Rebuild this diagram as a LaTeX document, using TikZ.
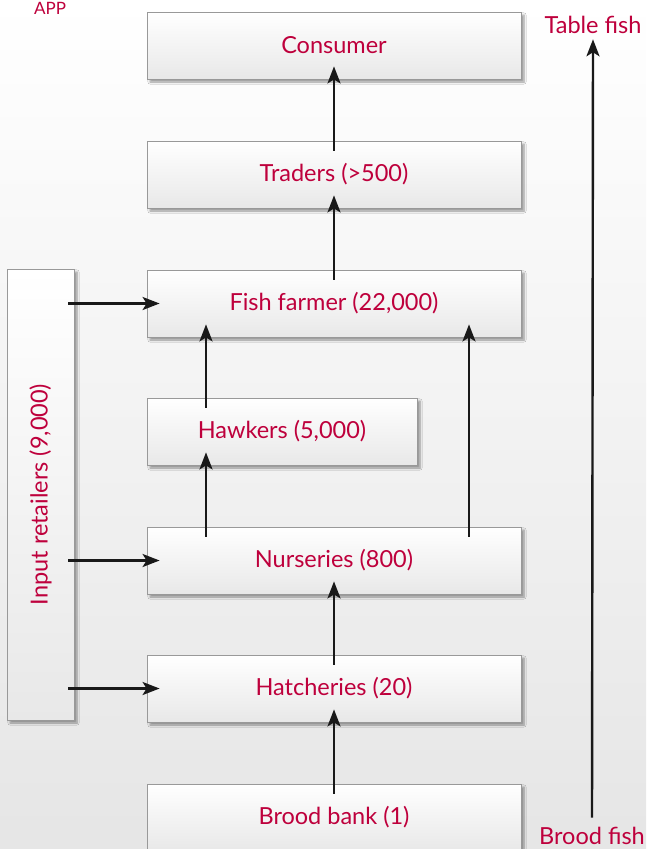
\documentclass[tikz,border=0pt]{standalone}
\usepackage{fontspec}
\setmainfont{Lato}
\usetikzlibrary{arrows.meta,shadows.blur}
\definecolor{crimson}{RGB}{190,0,60}

\begin{document}
\begin{tikzpicture}[x=1pt, y=-1pt,
    stage/.style={rectangle, draw=black!40, line width=0.8pt,
                  top color=white, bottom color=black!9,
                  minimum height=67pt, text=crimson,
                  font=\fontsize{23.5}{28}\selectfont,
                  blur shadow={shadow xshift=3pt, shadow yshift=-3pt,
                               shadow blur steps=6, shadow opacity=40}},
    tag/.style={text=crimson, font=\fontsize{23.5}{28}\selectfont},
    flow/.style={-{Stealth[length=17pt, width=13pt, inset=4pt]}, line width=2.4pt,
                 black!90, shorten <=-10pt, shorten >=-13pt}]

    % Background

    \useasboundingbox (0,0) rectangle (646,849);
    \shade [top color=white, bottom color=black!10] (0,0) rectangle (646,849);
    \node (app) [text=crimson, font=\fontsize{17}{18}\selectfont] at (50,8) {APP};

    % Value chain

    \node (consumer) [stage, minimum width=374pt] at (334,45.5) {Consumer};
    \node (traders) [stage, minimum width=374pt] at (334,174.5) {Traders (>500)};
    \node (farmer) [stage, minimum width=374pt] at (334,303.5) {Fish farmer (22,000)};
    \node (hawkers) [stage, minimum width=270pt] at (282,431.5) {Hawkers (5,000)};
    \node (nurseries) [stage, minimum width=374pt] at (334,560.5) {Nurseries (800)};
    \node (hatcheries) [stage, minimum width=374pt] at (334,688.5) {Hatcheries (20)};
    \node (broodbank) [stage, minimum width=374pt] at (334,817.5) {Brood bank (1)};

    \coordinate (leftcol) at (206,0);
    \coordinate (rightcol) at (469,0);

    \draw[flow] (traders.north) -- (consumer.south);
    \draw[flow] (farmer.north) -- (traders.south);
    \draw[flow] (hawkers.north -| leftcol) -- (farmer.south -| leftcol);
    \draw[flow] (nurseries.north -| leftcol) -- (hawkers.south -| leftcol);
    \draw[flow] (nurseries.north -| rightcol) -- (farmer.south -| rightcol);
    \draw[flow] (hatcheries.north) -- (nurseries.south);
    \draw[flow] (broodbank.north) -- (hatcheries.south);

    % Input retailers

    \node (retailers) [stage, rotate=90, minimum width=451pt]
          at (40.5,494.5) {Input retailers (9,000)};
    \draw[flow, shorten <=-6pt, shorten >=-13pt]
          (retailers.south |- farmer.west) -- (farmer.west);
    \draw[flow, shorten <=-6pt, shorten >=-13pt]
          (retailers.south |- nurseries.west) -- (nurseries.west);
    \draw[flow, shorten <=-6pt, shorten >=-13pt]
          (retailers.south |- hatcheries.west) -- (hatcheries.west);

    % Brood fish to table fish

    \node (tablefish) [tag] at (593,25) {Table fish};
    \node (broodfish) [tag] at (592,836) {Brood fish};
    \draw[flow, shorten <=6pt, shorten >=2pt] (broodfish.north) -- (tablefish.south);
\end{tikzpicture}
\end{document}
